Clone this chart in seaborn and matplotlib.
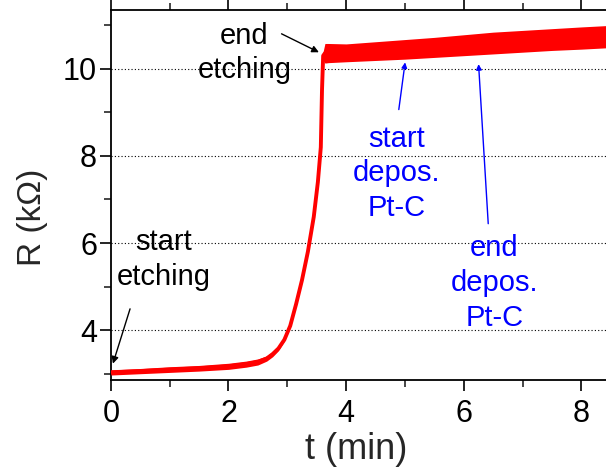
import numpy as np
import pandas as pd
import matplotlib
matplotlib.use("Agg")
import matplotlib.pyplot as plt
import seaborn as sns
from matplotlib.ticker import MultipleLocator

# ---- data ----
t_min = [0.0, 0.5, 1.0, 1.5, 2.0, 2.3, 2.5, 2.65, 2.75, 2.85, 2.95, 3.05, 3.15,
         3.25, 3.35, 3.45, 3.52, 3.57, 3.59, 3.61, 3.64, 3.7, 4.0, 4.5, 5.0,
         5.5, 6.0, 6.5, 7.0, 7.5, 8.0, 8.42]
r_low = [2.97, 3.00, 3.03, 3.06, 3.10, 3.15, 3.20, 3.29, 3.39, 3.53, 3.75, 4.08,
         4.58, 5.13, 5.78, 6.58, 7.38, 8.18, 9.48, 10.2, 10.13, 10.14, 10.16,
         10.19, 10.22, 10.26, 10.30, 10.34, 10.38, 10.42, 10.45, 10.48]
r_high = [3.09, 3.12, 3.16, 3.19, 3.24, 3.29, 3.34, 3.41, 3.51, 3.63, 3.81, 4.12,
          4.62, 5.17, 5.82, 6.62, 7.42, 8.22, 9.52, 10.4, 10.58, 10.58, 10.57,
          10.62, 10.67, 10.72, 10.78, 10.84, 10.88, 10.92, 10.96, 10.99]
x_ticks = [0, 2, 4, 6, 8]
y_ticks = [4, 6, 8, 10]

df = pd.DataFrame({"t": t_min, "low": r_low, "high": r_high})
df["R"] = (df["low"] + df["high"]) / 2

sns.set_theme(style="ticks")
plt.rcParams["font.family"] = ["Liberation Sans", "DejaVu Sans"]

fig = plt.figure(figsize=(6.06, 4.73), dpi=100)
ax = fig.add_axes([0.183, 0.197, 0.817, 0.782])

ax.fill_between(df["t"], df["low"], df["high"], color="#ff0000", lw=0, zorder=3)
sns.lineplot(data=df, x="t", y="R", ax=ax, color="#ff0000", lw=2.8, zorder=4,
             sort=False)

ax.set_xlim(0, 8.42)
ax.set_ylim(2.86, 11.35)
ax.set_xticks(x_ticks)
ax.set_yticks(y_ticks)
ax.xaxis.set_minor_locator(MultipleLocator(1))
ax.yaxis.set_minor_locator(MultipleLocator(1))
ax.tick_params(axis="both", which="major", length=8, width=1.2, direction="out",
               labelsize=22, colors="black", top=True)
ax.tick_params(axis="both", which="minor", length=5, width=1.2, direction="out",
               top=True)
ax.tick_params(axis="x", which="major", pad=6)
ax.tick_params(axis="y", which="major", pad=2)
for s in ["left", "bottom", "top"]:
    ax.spines[s].set_linewidth(1.3)
    ax.spines[s].set_color("black")
ax.spines["right"].set_visible(False)
ax.yaxis.grid(True, which="major", linestyle=(0, (1, 2)), color="black", lw=0.8)
ax.set_axisbelow(True)

ax.set_xlabel("t (min)", fontsize=26)
ax.set_ylabel("R (kΩ)", fontsize=24)
ax.xaxis.set_label_coords(0.495, -0.14)
ax.yaxis.set_label_coords(-0.128, 0.44)

# annotations
fs = 21
ls = 1.3
ax.text(0.90, 5.62, "start\netching", fontsize=fs, ha="center", va="center",
        linespacing=ls, color="black")
ax.annotate("", xy=(0.02, 3.17), xytext=(0.34, 4.55),
            arrowprops=dict(arrowstyle="-|>", color="black", lw=1,
                            mutation_scale=10))
ax.text(2.27, 10.36, "end\netching", fontsize=fs, ha="center", va="center",
        linespacing=ls, color="black")
ax.annotate("", xy=(3.58, 10.35), xytext=(2.86, 10.83),
            arrowprops=dict(arrowstyle="-|>", color="black", lw=1,
                            mutation_scale=10))
ax.text(4.86, 7.6, "start\ndepos.\nPt-C", fontsize=fs, ha="center",
        va="center", linespacing=ls, color="#0000ff")
ax.annotate("", xy=(5.01, 10.21), xytext=(4.89, 9.0),
            arrowprops=dict(arrowstyle="-|>", color="#0000ff", lw=1,
                            mutation_scale=8))
ax.text(6.52, 5.08, "end\ndepos.\nPt-C", fontsize=fs, ha="center",
        va="center", linespacing=ls, color="#0000ff")
ax.annotate("", xy=(6.25, 10.17), xytext=(6.42, 6.38),
            arrowprops=dict(arrowstyle="-|>", color="#0000ff", lw=1,
                            mutation_scale=8))

fig.savefig("out.png", dpi=100)
